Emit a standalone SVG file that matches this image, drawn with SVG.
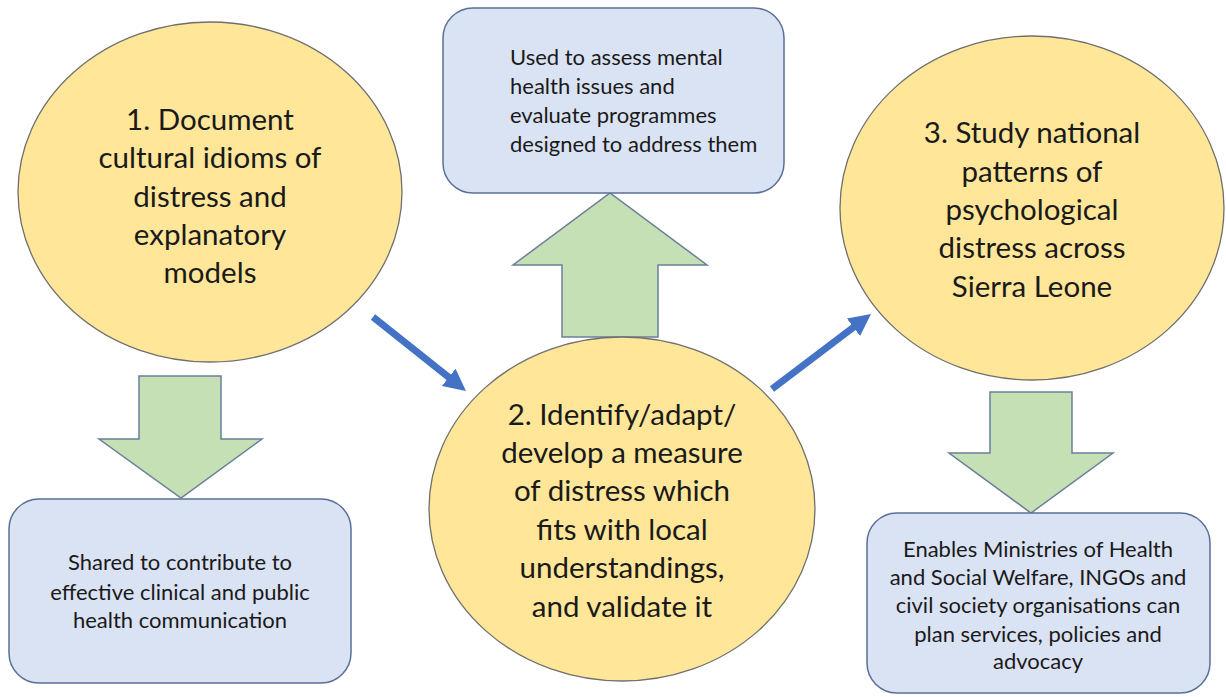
<svg xmlns="http://www.w3.org/2000/svg" width="1226" height="697" viewBox="0 0 1226 697">
<style>
.bg{fill:#ffffff}
.circ{fill:#FFE699;stroke:#6f6f6f;stroke-width:1.3}
.box{fill:#DAE3F3;stroke:#5a6f99;stroke-width:1.5}
.garrow{fill:#C5E0B4;stroke:#6b7f9a;stroke-width:1.5;stroke-linejoin:miter}
.conn{stroke:#4472C4;stroke-width:7;fill:none}
.ct{font-family:Lato,"Open Sans","Liberation Sans",sans-serif;font-size:29.5px;fill:#1a1a1a;text-anchor:middle}
.bt{font-family:Lato,"Open Sans","Liberation Sans",sans-serif;font-size:22px;fill:#1a1a1a;text-anchor:middle}
.bl{text-anchor:start}
</style>
<defs>
<marker id="ah" markerUnits="userSpaceOnUse" markerWidth="22" markerHeight="22" viewBox="0 0 22 22" refX="8" refY="11" orient="auto">
<path d="M0,0 L22,11 L0,22 z" fill="#4472C4"/>
</marker>
</defs>
<rect class="bg" x="0" y="0" width="1226" height="697"/>

<g id="arrow-up-mid"><polygon class="garrow" points="562,337 562,265 513,265 610,193 707,265 658,265 658,337"/></g>
<g id="arrow-down-left"><polygon class="garrow" points="139,376 221,376 221,439 262,439 181,498 99,439 139,439"/></g>
<g id="arrow-down-right"><polygon class="garrow" points="990,392 1072,392 1072,453 1113,453 1031,513 949,453 990,453"/></g>

<g id="node-step1">
<ellipse class="circ" cx="210" cy="192" rx="192" ry="170"/>
<text class="ct" x="210" y="130">1. Document</text>
<text class="ct" x="210" y="168">cultural idioms of</text>
<text class="ct" x="210" y="207">distress and</text>
<text class="ct" x="210" y="245">explanatory</text>
<text class="ct" x="210" y="283">models</text>
</g>

<g id="node-step2">
<ellipse class="circ" cx="622" cy="509" rx="193" ry="172"/>
<text class="ct" x="622" y="425">2. Identify/adapt/</text>
<text class="ct" x="622" y="463">develop a measure</text>
<text class="ct" x="622" y="501">of distress which</text>
<text class="ct" x="622" y="540">fits with local</text>
<text class="ct" x="622" y="578">understandings,</text>
<text class="ct" x="622" y="617">and validate it</text>
</g>

<g id="node-step3">
<ellipse class="circ" cx="1032" cy="208" rx="192" ry="172"/>
<text class="ct" x="1032" y="143">3. Study national</text>
<text class="ct" x="1032" y="182">patterns of</text>
<text class="ct" x="1032" y="220">psychological</text>
<text class="ct" x="1032" y="258">distress across</text>
<text class="ct" x="1032" y="297">Sierra Leone</text>
</g>

<g id="node-assess">
<rect class="box" x="443" y="8" width="341" height="185" rx="30" ry="30"/>
<text class="bt bl" x="510" y="65">Used to assess mental</text>
<text class="bt bl" x="510" y="94">health issues and</text>
<text class="bt bl" x="510" y="123">evaluate programmes</text>
<text class="bt bl" x="510" y="152">designed to address them</text>
</g>

<g id="node-shared">
<rect class="box" x="9" y="499" width="342" height="184" rx="30" ry="30"/>
<text class="bt" x="180" y="570">Shared to contribute to</text>
<text class="bt" x="180" y="600">effective clinical and public</text>
<text class="bt" x="180" y="628">health communication</text>
</g>

<g id="node-enables">
<rect class="box" x="867" y="513" width="343" height="180" rx="30" ry="30"/>
<text class="bt" x="1038" y="557">Enables Ministries of Health</text>
<text class="bt" x="1038" y="585">and Social Welfare, INGOs and</text>
<text class="bt" x="1038" y="613">civil society organisations can</text>
<text class="bt" x="1038" y="642">plan services, policies and</text>
<text class="bt" x="1038" y="669">advocacy</text>
</g>

<g id="connectors">
<line class="conn" x1="373" y1="317" x2="455" y2="382.3" marker-end="url(#ah)"/>
<line class="conn" x1="772" y1="389" x2="859.8" y2="322.5" marker-end="url(#ah)"/>
</g>
</svg>
